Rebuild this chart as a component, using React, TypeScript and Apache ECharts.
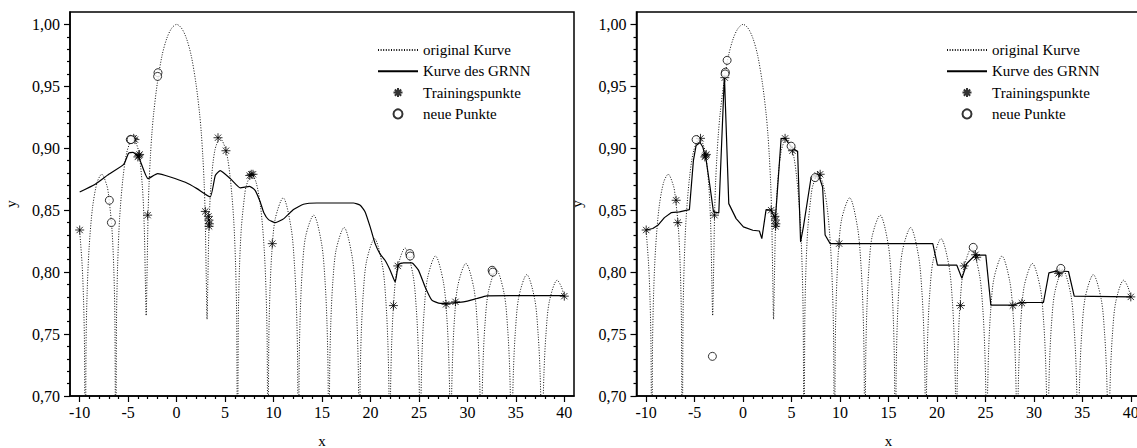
import React, { useEffect, useRef } from 'react';
import * as echarts from 'echarts';

// ---------- data ----------
const X_MAJOR = [-10, -5, 0, 5, 10, 15, 20, 25, 30, 35, 40];
const Y_MAJOR = [0.7, 0.75, 0.8, 0.85, 0.9, 0.95, 1.0];

// original curve (same in both panels); dips are clipped at 0,70
const originalCurve: [number, number][] = [
  [-10, 0.833], [-9.75, 0.806], [-9.6, 0.777], [-9.5, 0.737], [-9.42, 0.6],
  [-9.345, 0.741], [-9.225, 0.785], [-9.025, 0.82], [-8.675, 0.852], [-8.2, 0.8725], [-7.725, 0.879], [-7.2, 0.87], [-7.033, 0.863], [-6.683, 0.836], [-6.483, 0.803], [-6.363, 0.759], [-6.283, 0.6],
  [-6.203, 0.76], [-6.083, 0.806], [-5.883, 0.843], [-5.533, 0.876], [-5.1, 0.898], [-4.493, 0.908], [-3.95, 0.8985], [-3.542, 0.87], [-3.342, 0.837], [-3.222, 0.792], [-3.14, 0.765],
  [-3.06, 0.795], [-2.94, 0.848], [-2.84, 0.872], [-2.7, 0.894], [-2.55, 0.912], [-2.37, 0.928], [-2.0, 0.952], [-1.5, 0.975], [-1.0, 0.989], [-0.5, 0.997], [0, 1.0],
  [0.5, 0.997], [1.0, 0.989], [1.5, 0.975], [2.0, 0.952], [2.37, 0.928], [2.55, 0.912], [2.7, 0.894], [2.84, 0.872], [2.94, 0.848], [3.06, 0.795], [3.14, 0.762],
  [3.222, 0.792], [3.342, 0.837], [3.542, 0.87], [3.95, 0.8985], [4.493, 0.908], [5.1, 0.898], [5.533, 0.876], [5.883, 0.843], [6.083, 0.806], [6.203, 0.76], [6.283, 0.6],
  [6.363, 0.759], [6.483, 0.803], [6.683, 0.836], [7.033, 0.863], [7.2, 0.87], [7.725, 0.879], [8.2, 0.8725], [8.675, 0.852], [9.025, 0.82], [9.225, 0.785], [9.345, 0.741], [9.425, 0.6],
  [9.505, 0.74], [9.625, 0.783], [9.825, 0.816], [10.175, 0.843], [10.99, 0.86], [11.816, 0.8355], [12.166, 0.805], [12.366, 0.771], [12.486, 0.727], [12.566, 0.6],
  [12.646, 0.727], [12.766, 0.769], [12.966, 0.802], [13.316, 0.829], [14.137, 0.846], [14.958, 0.823], [15.308, 0.7935], [15.508, 0.76], [15.628, 0.717], [15.708, 0.6],
  [15.788, 0.717], [15.908, 0.759], [16.108, 0.791], [16.458, 0.818], [17.279, 0.836], [18.1, 0.813], [18.45, 0.784], [18.65, 0.751], [18.77, 0.709], [18.85, 0.6],
  [18.93, 0.709], [19.05, 0.75], [19.25, 0.782], [19.6, 0.809], [20.42, 0.827], [21.241, 0.805], [21.591, 0.7765], [21.791, 0.744], [21.911, 0.702], [21.991, 0.6],
  [22.071, 0.702], [22.191, 0.743], [22.391, 0.775], [22.741, 0.802], [23.562, 0.8195], [24.383, 0.798], [24.733, 0.77], [24.933, 0.738], [25.053, 0.696], [25.133, 0.6],
  [25.213, 0.696], [25.333, 0.737], [25.533, 0.768], [25.883, 0.795], [26.704, 0.813], [27.524, 0.792], [27.874, 0.764], [28.074, 0.732], [28.194, 0.691], [28.274, 0.6],
  [28.354, 0.691], [28.474, 0.731], [28.674, 0.763], [29.024, 0.7895], [29.845, 0.807], [30.666, 0.787], [31.016, 0.759], [31.216, 0.727], [31.336, 0.686], [31.416, 0.6],
  [31.496, 0.686], [31.616, 0.727], [31.816, 0.758], [32.166, 0.784], [32.987, 0.802], [33.808, 0.782], [34.158, 0.754], [34.358, 0.723], [34.478, 0.682], [34.558, 0.6],
  [34.638, 0.682], [34.758, 0.722], [34.958, 0.753], [35.308, 0.78], [36.128, 0.798], [36.949, 0.778], [37.299, 0.75], [37.499, 0.719], [37.619, 0.679], [37.699, 0.6],
  [37.779, 0.678], [37.899, 0.718], [38.099, 0.749], [38.449, 0.776], [39.27, 0.7935], [39.7, 0.788], [40, 0.78],
];

// left panel
const leftGrnn: [number, number][] = [
  [-10, 0.8647], [-8.4, 0.871], [-7.0, 0.879], [-5.46, 0.887], [-4.95, 0.896], [-4.5, 0.8967], [-3.92, 0.893],
  [-2.95, 0.8755], [-1.96, 0.8795], [-0.65, 0.8768], [0.9, 0.8725], [2.1, 0.8674], [3.47, 0.8607], [3.99, 0.878],
  [4.5, 0.882], [5.54, 0.8755], [6.57, 0.868], [7.53, 0.8693], [8.1, 0.866], [8.63, 0.8566], [9.0, 0.848],
  [9.48, 0.8424], [10.18, 0.84], [11.03, 0.843], [12.06, 0.8505], [13.09, 0.8548], [14.47, 0.8558], [16.2, 0.8558],
  [18.25, 0.8558], [18.94, 0.854], [19.45, 0.8486], [19.97, 0.8365], [20.48, 0.823], [21.0, 0.8145], [21.5, 0.8096],
  [22.03, 0.8016], [22.55, 0.7921], [22.89, 0.8062], [23.4, 0.8075], [24.27, 0.8075], [24.95, 0.8016], [25.64, 0.788],
  [26.33, 0.7774], [27.19, 0.7747], [28.22, 0.775], [29.59, 0.776], [30.97, 0.7787], [32.0, 0.7809], [35.1, 0.781], [40, 0.781],
];
const leftTraining: [number, number][] = [
  [-10, 0.834], [-4.43, 0.908], [-4.3, 0.907], [-4.0, 0.893], [-3.9, 0.894], [-3.82, 0.895], [-2.99, 0.846],
  [2.96, 0.849], [3.28, 0.845], [3.33, 0.842], [3.38, 0.839], [3.35, 0.837], [4.27, 0.9085], [5.09, 0.898],
  [7.55, 0.878], [7.7, 0.879], [7.88, 0.879], [9.87, 0.823], [22.37, 0.773], [22.82, 0.805], [27.8, 0.774],
  [28.77, 0.776], [40, 0.7806],
];
const leftNew: [number, number][] = [
  [-6.94, 0.858], [-6.73, 0.84], [-4.78, 0.907], [-4.7, 0.907], [-1.92, 0.961], [-1.96, 0.958],
  [24.05, 0.815], [24.1, 0.813], [32.55, 0.8015], [32.62, 0.8],
];

// right panel
const rightGrnn: [number, number][] = [
  [-10, 0.834], [-9.32, 0.8352], [-8.8, 0.8378], [-8.12, 0.844], [-7.43, 0.848], [-6.57, 0.8486], [-5.54, 0.8505],
  [-5.13, 0.89], [-4.85, 0.9023], [-4.44, 0.9047], [-4.16, 0.901], [-3.82, 0.8908], [-3.41, 0.8687], [-3.06, 0.8486],
  [-2.51, 0.8478], [-1.93, 0.9587], [-1.48, 0.8553], [-0.72, 0.8432], [0.03, 0.8365], [1.0, 0.8338], [1.68, 0.8332],
  [1.93, 0.827], [2.37, 0.8505], [2.89, 0.85], [3.33, 0.843], [3.92, 0.9077], [4.33, 0.908], [4.95, 0.901],
  [5.54, 0.8977], [5.62, 0.8977], [5.93, 0.8244], [6.22, 0.8365], [7.02, 0.8768], [7.43, 0.877], [7.8, 0.878],
  [8.2, 0.8687], [8.46, 0.83], [8.98, 0.823], [19.57, 0.823], [20.05, 0.8056], [22.05, 0.8056], [22.57, 0.795],
  [23.08, 0.807], [23.94, 0.8137], [25.04, 0.8137], [25.56, 0.7733], [27.88, 0.7733], [28.59, 0.7755], [30.99, 0.7755],
  [31.55, 0.7994], [32.37, 0.801], [33.57, 0.8005], [34.16, 0.7806], [40, 0.78],
];
const rightTraining: [number, number][] = [
  [-10, 0.834], [-6.91, 0.858], [-6.74, 0.84], [-4.4, 0.908], [-3.95, 0.893], [-3.87, 0.894], [-3.8, 0.895],
  [-2.96, 0.846], [-1.89, 0.957], [2.89, 0.85], [3.28, 0.845], [3.33, 0.842], [3.38, 0.839], [3.35, 0.837],
  [4.33, 0.908], [5.09, 0.898], [7.7, 0.878], [7.95, 0.879], [9.91, 0.823], [22.43, 0.773], [22.81, 0.805],
  [23.98, 0.814], [24.1, 0.812], [27.83, 0.773], [28.76, 0.775], [32.55, 0.799], [32.65, 0.8], [40, 0.78],
];
const rightNew: [number, number][] = [
  [-4.85, 0.907], [-3.17, 0.732], [-1.65, 0.971], [-1.83, 0.9614], [-1.86, 0.96], [4.95, 0.9017],
  [7.43, 0.8763], [23.74, 0.82], [32.78, 0.803],
];

const NAMES = ['original Kurve', 'Kurve des GRNN', 'Trainingspunkte', 'neue Punkte'];

// ---------- styling ----------
const FONT = 'Liberation Serif';
const ASTERISK = 'path://M5 0L5 10M0 5L10 5M1.5 1.5L8.5 8.5M1.5 8.5L8.5 1.5';

const X_MINOR: number[] = [];
for (let v = -10; v <= 40; v++) if (v % 5 !== 0) X_MINOR.push(v);
const Y_MINOR: number[] = [];
for (let i = 71; i < 100; i++) if (i % 5 !== 0) Y_MINOR.push(i / 100);

const axisLineStyle = { color: '#000', width: 1.5 };
const tickStyle = { color: '#000', width: 1.2 };
const labelStyle = { color: '#000', fontFamily: FONT, fontSize: 16 };

function xAxes(gridIndex: number) {
  return [
    {
      type: 'value', gridIndex, min: -11, max: 41, position: 'bottom',
      axisLine: { show: true, onZero: false, lineStyle: axisLineStyle },
      axisTick: { show: true, customValues: X_MAJOR, length: 6, lineStyle: tickStyle },
      axisLabel: { show: true, customValues: X_MAJOR, margin: 8, ...labelStyle, formatter: (v: number) => String(v) },
      splitLine: { show: false },
      name: 'x', nameLocation: 'middle', nameGap: 37,
      nameTextStyle: { ...labelStyle, fontSize: 15 },
    },
    {
      type: 'value', gridIndex, min: -11, max: 41, position: 'bottom',
      axisLine: { show: false, onZero: false },
      axisTick: { show: true, customValues: X_MINOR, length: 3, lineStyle: tickStyle },
      axisLabel: { show: false },
      splitLine: { show: false },
    },
  ];
}

function yAxes(gridIndex: number) {
  return [
    {
      type: 'value', gridIndex, min: 0.7, max: 1.01, position: 'left',
      axisLine: { show: true, onZero: false, lineStyle: axisLineStyle },
      axisTick: { show: true, customValues: Y_MAJOR, length: 6, lineStyle: tickStyle },
      axisLabel: {
        show: true, customValues: Y_MAJOR, margin: 10, ...labelStyle,
        formatter: (v: number) => v.toFixed(2).replace('.', ','),
      },
      splitLine: { show: false },
      name: 'y', nameLocation: 'middle', nameGap: 52, nameRotate: 90,
      nameTextStyle: { ...labelStyle, fontSize: 15 },
    },
    {
      type: 'value', gridIndex, min: 0.7, max: 1.01, position: 'left',
      axisLine: { show: false, onZero: false },
      axisTick: { show: true, customValues: Y_MINOR, length: 3, lineStyle: tickStyle },
      axisLabel: { show: false },
      splitLine: { show: false },
    },
  ];
}

function panelSeries(axisIndex: number, grnn: [number, number][], training: [number, number][], fresh: [number, number][]) {
  return [
    {
      name: NAMES[0], type: 'line', xAxisIndex: axisIndex, yAxisIndex: axisIndex, data: originalCurve,
      symbol: 'none', smooth: 0.3, clip: true, z: 1,
      lineStyle: { color: '#111', width: 1, type: [1, 1.6] },
    },
    {
      name: NAMES[1], type: 'line', xAxisIndex: axisIndex, yAxisIndex: axisIndex, data: grnn,
      symbol: 'none', smooth: axisIndex === 0 ? 0.15 : false, clip: true, z: 2,
      lineStyle: { color: '#000', width: 1.2 },
    },
    {
      name: NAMES[2], type: 'scatter', xAxisIndex: axisIndex, yAxisIndex: axisIndex, data: training,
      symbol: ASTERISK, symbolSize: 9, z: 3,
      itemStyle: { color: 'none', borderColor: '#000', borderWidth: 1 },
    },
    {
      name: NAMES[3], type: 'scatter', xAxisIndex: axisIndex, yAxisIndex: axisIndex, data: fresh,
      symbol: 'circle', symbolSize: 8, z: 4,
      itemStyle: { color: '#fff', borderColor: '#000', borderWidth: 1 },
    },
  ];
}

function legendAt(left: number) {
  return {
    orient: 'vertical', left, top: 42.5, padding: 0, itemWidth: 40, itemHeight: 9, itemGap: 6.3,
    selectedMode: false,
    textStyle: { color: '#000', fontFamily: FONT, fontSize: 15, lineHeight: 15 },
    data: [
      { name: NAMES[0], itemStyle: { opacity: 0 } },
      { name: NAMES[1], itemStyle: { opacity: 0 } },
      { name: NAMES[2] },
      { name: NAMES[3] },
    ],
  };
}

export default function App() {
  const ref = useRef<HTMLDivElement>(null);
  useEffect(() => {
    if (!ref.current) return;
    const chart = echarts.init(ref.current, undefined, { renderer: 'svg' });
    const gridBase = {
      top: 12, width: 504, height: 384, show: true, borderColor: '#000', borderWidth: 1.5,
      backgroundColor: 'transparent', containLabel: false, outerBoundsMode: 'none',
    };
    chart.setOption({
      animation: false,
      backgroundColor: '#fff',
      textStyle: { fontFamily: FONT, fontSize: 15, color: '#000' },
      grid: [{ ...gridBase, left: 70 }, { ...gridBase, left: 636.5 }],
      xAxis: [...xAxes(0), ...xAxes(1)],
      yAxis: [...yAxes(0), ...yAxes(1)],
      legend: [legendAt(377), legendAt(946)],
      series: [
        ...panelSeries(0, leftGrnn, leftTraining, leftNew),
        ...panelSeries(2, rightGrnn, rightTraining, rightNew),
      ],
    } as any);
    return () => chart.dispose();
  }, []);
  return (
    <div
      ref={ref}
      style={{ position: 'fixed', left: 0, top: 0, width: 1137, height: 448, background: '#fff' }}
    />
  );
}
